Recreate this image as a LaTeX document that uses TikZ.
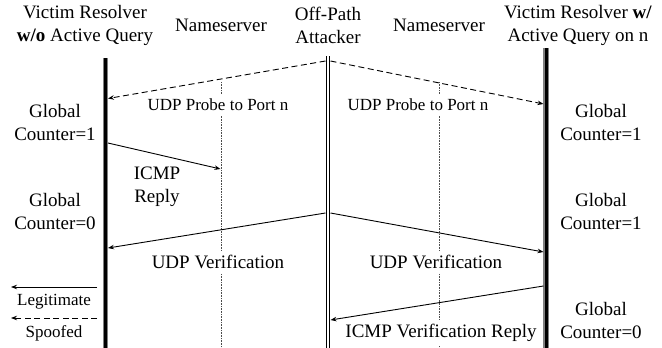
\documentclass[tikz,border=0pt]{standalone}
\usepackage{fontspec}
\setmainfont{Liberation Serif}
\usetikzlibrary{arrows.meta}
\begin{document}
\begin{tikzpicture}[x=1pt,y=-1pt,
  txt/.style={font=\fontsize{19}{23}\selectfont, align=center, inner sep=0pt},
  small/.style={font=\fontsize{17}{20}\selectfont, align=center, inner sep=0pt},
  msg/.style={txt, fill=white, inner xsep=2pt, inner ysep=4pt},
  probe/.style={small, fill=white, inner xsep=2pt, inner ysep=5pt},
  resolverline/.style={draw=gray, line width=1.1pt, double=black, double distance=3pt},
  attackerline/.style={draw=black, line width=1.1pt, double=white, double distance=2.2pt},
  nsline/.style={draw=black!70, line width=0.6pt, dash pattern=on 0.8pt off 0.8pt},
  real/.style={draw=black, line width=0.9pt, -{Stealth[length=6pt,width=4.5pt]}},
  spoof/.style={real, dash pattern=on 6pt off 3.5pt},
]
\useasboundingbox (0,0) rectangle (662,348);

% lifelines
\coordinate (lrTop) at (105.5,58);   \coordinate (lrBot) at (105.5,348);
\coordinate (atTop) at (328,56);     \coordinate (atBot) at (328,348);
\coordinate (rrTop) at (546,48);     \coordinate (rrBot) at (546,348);
\coordinate (nsaTop) at (221,82);    \coordinate (nsaBot) at (221,348);
\coordinate (nsbTop) at (439,82);    \coordinate (nsbBot) at (439,348);
\draw[nsline] (nsaTop) -- (nsaBot);
\draw[nsline] (nsbTop) -- (nsbBot);
\draw[resolverline] (lrTop) -- (lrBot);
\draw[resolverline] (rrTop) -- (rrBot);
\draw[attackerline] (atTop) -- (atBot);

% headers
\node[txt] (hLeft) at (85,25) {Victim Resolver\\\textbf{w/o} Active Query};
\node[txt] (hNsA) at (221,25) {Nameserver};
\node[txt] (hAtt) at (328,25) {Off-Path\\Attacker};
\node[txt] (hNsB) at (439,25) {Nameserver};
\node[txt] (hRight) at (578,25) {Victim Resolver \textbf{w/}\\Active Query on n};

% message labels
\node[probe] (lProbeL) at (218,105) {UDP Probe to Port n};
\node[probe] (lProbeR) at (418,105) {UDP Probe to Port n};
\node[txt] (lIcmp) at (157,187) {ICMP\\Reply};
\node[msg] (lVerL) at (218,262) {UDP Verification};
\node[msg] (lVerR) at (436,262) {UDP Verification};
\node[msg] (lVerRep) at (441,333) {ICMP Verification Reply};

% counters
\node[txt] (cL1) at (55,122) {Global\\Counter=1};
\node[txt] (cL0) at (55,211) {Global\\Counter=0};
\node[txt] (cR1a) at (601,122) {Global\\Counter=1};
\node[txt] (cR1b) at (601,211) {Global\\Counter=1};
\node[txt] (cR0) at (601,320) {Global\\Counter=0};

% messages
\coordinate (m1s) at (325.5,61);  \coordinate (m1e) at (108,98.5);
\coordinate (m2s) at (330.5,61);  \coordinate (m2e) at (543.5,104);
\coordinate (m3s) at (108,143);   \coordinate (m3e) at (220.5,169);
\coordinate (m4s) at (325.5,213); \coordinate (m4e) at (108,248);
\coordinate (m5s) at (330.5,213); \coordinate (m5e) at (543.5,252);
\coordinate (m6s) at (543.5,286); \coordinate (m6e) at (330.5,320);
\draw[spoof] (m1s) -- (m1e);
\draw[spoof] (m2s) -- (m2e);
\draw[real] (m3s) -- (m3e);
\draw[real] (m4s) -- (m4e);
\draw[real] (m5s) -- (m5e);
\draw[real] (m6s) -- (m6e);

% legend
\coordinate (kA) at (97,287); \coordinate (kB) at (11,287);
\coordinate (kC) at (97,318); \coordinate (kD) at (11,318);
\draw[real] (kA) -- (kB);
\draw[spoof] (kC) -- (kD);
\node[small] (kLeg) at (54,302) {Legitimate};
\node[small] (kSpf) at (54,333) {Spoofed};
\end{tikzpicture}
\end{document}
